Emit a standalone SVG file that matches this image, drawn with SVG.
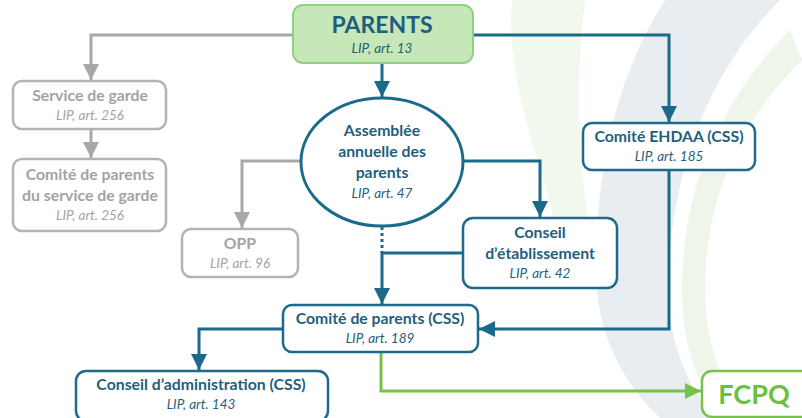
<svg xmlns="http://www.w3.org/2000/svg" width="802" height="418" viewBox="0 0 802 418">
<defs>
<style>
.t{font-family:Lato,"Liberation Sans",sans-serif;text-anchor:middle}
.b{font-weight:bold;font-size:15.8px}
.i{font-style:italic;font-size:13.5px}
.blue{fill:#1f5f7c}
.gray{fill:#a3a3a3}
.bx{fill:#fff;stroke:#1d6a8a;stroke-width:2.5}
.gbx{fill:#fff;stroke:#b3b3b3;stroke-width:2.5}
.cb{fill:none;stroke:#1a6a8c;stroke-width:3}
.cg{fill:none;stroke:#a8a8a8;stroke-width:3}
.cgr{fill:none;stroke:#79c24a;stroke-width:3}
</style>
<marker id="ab" markerUnits="userSpaceOnUse" markerWidth="18" markerHeight="16" viewBox="0 0 18 16" refX="16" refY="8" orient="auto"><path d="M0,0 L16,8 L0,16 z" fill="#1a6a8c"/></marker>
<marker id="ag" markerUnits="userSpaceOnUse" markerWidth="18" markerHeight="16" viewBox="0 0 18 16" refX="16" refY="8" orient="auto"><path d="M0,0 L16,8 L0,16 z" fill="#a8a8a8"/></marker>
<marker id="agr" markerUnits="userSpaceOnUse" markerWidth="18" markerHeight="16" viewBox="0 0 18 16" refX="16" refY="8" orient="auto"><path d="M0,0 L16,8 L0,16 z" fill="#79c24a"/></marker>
</defs>
<rect width="802" height="418" fill="#fff"/>
<g id="background">
<path d="M512,0 L585,0 C575,80 578,160 590,230 L560,240 C540,160 505,80 512,0 z" fill="#f1f8ee"/>
<path d="M665,0 L780,0 C710,70 668,170 668,300 C672,350 690,390 715,418 L660,418 C620,380 596,330 596,270 C596,160 620,70 665,0 z" fill="#e7edf0"/>
<path d="M790,30 L802,60 C740,120 705,200 705,290 C705,340 720,380 745,418 L720,418 C695,380 682,340 682,290 C682,190 720,100 790,30 z" fill="#eef6ea"/>
</g>
<g id="connectors">
<path class="cg" d="M293,35 H91 V80" marker-end="url(#ag)"/>
<path class="cg" d="M91,129 V158" marker-end="url(#ag)"/>
<path class="cb" d="M382,63 V97" marker-end="url(#ab)"/>
<path class="cg" d="M300,161 H242 V228" marker-end="url(#ag)"/>
<path class="cb" d="M464,161 H540 V217" marker-end="url(#ab)"/>
<path class="cb" d="M382,227 V253" stroke-dasharray="3,3"/>
<path class="cb" d="M463,253 H382 V304" marker-end="url(#ab)"/>
<path class="cb" d="M473,35 H669 V122" marker-end="url(#ab)"/>
<path class="cb" d="M669,170 V329 H479" marker-end="url(#ab)"/>
<path class="cb" d="M283,329 H199 V370" marker-end="url(#ab)"/>
<path class="cgr" d="M381,352 V391 H701" marker-end="url(#agr)"/>
</g>
<g id="parents">
<rect x="293" y="5" width="180" height="58" rx="10" fill="#c6e8b9" stroke="#93cf80" stroke-width="2"/>
<text class="t blue" x="382" y="33" font-weight="bold" font-size="23">PARENTS</text>
<text class="t blue i" x="382" y="53">LIP, art. 13</text>
</g>
<g id="service-de-garde">
<rect class="gbx" x="13" y="81" width="153" height="48" rx="9"/>
<text class="t gray b" x="90" y="101">Service de garde</text>
<text class="t gray i" x="90" y="120">LIP, art. 256</text>
</g>
<g id="comite-service-de-garde">
<rect class="gbx" x="13" y="159" width="153" height="72" rx="9"/>
<text class="t gray b" x="90" y="180">Comité de parents</text>
<text class="t gray b" x="90" y="201">du service de garde</text>
<text class="t gray i" x="90" y="220">LIP, art. 256</text>
</g>
<g id="assemblee">
<ellipse cx="382" cy="162" rx="81" ry="64" fill="#fff" stroke="#1a6a8c" stroke-width="3"/>
<text class="t blue b" x="382" y="136">Assemblée</text>
<text class="t blue b" x="382" y="157">annuelle des</text>
<text class="t blue b" x="382" y="178">parents</text>
<text class="t blue i" x="382" y="198">LIP, art. 47</text>
</g>
<g id="opp">
<rect class="gbx" x="182" y="229" width="116" height="48" rx="9"/>
<text class="t gray b" x="240" y="249">OPP</text>
<text class="t gray i" x="240" y="268">LIP, art. 96</text>
</g>
<g id="conseil-etablissement">
<rect class="bx" x="463" y="218" width="154" height="70" rx="10"/>
<text class="t blue b" x="540" y="238">Conseil</text>
<text class="t blue b" x="540" y="259">d’établissement</text>
<text class="t blue i" x="540" y="278">LIP, art. 42</text>
</g>
<g id="comite-ehdaa">
<rect class="bx" x="583" y="123" width="172" height="47" rx="9"/>
<text class="t blue b" x="669" y="142">Comité EHDAA (CSS)</text>
<text class="t blue i" x="669" y="161">LIP, art. 185</text>
</g>
<g id="comite-parents">
<rect class="bx" x="283" y="305" width="195" height="47" rx="9"/>
<text class="t blue b" x="380" y="324">Comité de parents (CSS)</text>
<text class="t blue i" x="380" y="343">LIP, art. 189</text>
</g>
<g id="conseil-administration">
<rect class="bx" x="76" y="371" width="252" height="50" rx="10"/>
<text class="t blue b" x="201" y="390">Conseil d’administration (CSS)</text>
<text class="t blue i" x="201" y="409">LIP, art. 143</text>
</g>
<g id="fcpq">
<rect x="702" y="371" width="110" height="46" rx="10" fill="#fff" stroke="#79c24a" stroke-width="2.5"/>
<text class="t" x="754" y="404" font-weight="bold" font-size="27" fill="#6cbf3f">FCPQ</text>
</g>
</svg>
